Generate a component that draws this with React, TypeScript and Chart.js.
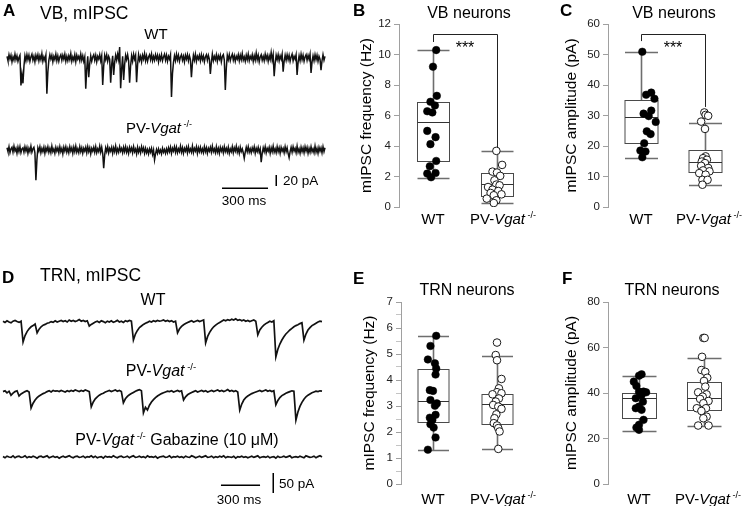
import { useEffect, useRef } from "react";
import { Chart, registerables } from "chart.js";

Chart.register(...registerables);

const FONT = '"Liberation Sans", Arial, Helvetica, sans-serif';

// ---------- categories ----------
const groups = ["WT", "PV-Vgat -/-"];

// ---------- Panel A: VB mIPSC traces (pA), one sample every 6.5 ms ----------
const vbSampleMs = 6.5;
const vbWtTrace = [
  3, -5, 6, -2, 5, -7, 2, -4, 7, -3, 4, -6, 1, 5, -50, -30, -46, -15, 4, -5,
  6, -3, 5, -6, 2, 7, -4, 3, -7, 5, -2, 6, -5, 4, -3, 8, -6, 2, -4, 5,
  -65, -25, -4, 6, -2, 5, -7, 3, -3, 7, -5, 4, -6, 2, 6, -4, 5, -2, 7, -6,
  3, -5, 4, -3, 8, -6, 2, -4, 6, -7, 5, -2, 3, -5, 7, -4, 4, -6, 2, -56,
  -20, 3, -35, -10, 4, -6, 2, 6, -4, 5, -7, 3, -2, 6, -5, 4, -49, -15, 5, -3,
  6, -6, 3, -2, -45, -12, 4, -31, -8, 5, -4, 7, -3, 20, -55, -20, 3, -40, -12, 5,
  -3, 6, -5, -45, -14, 4, -6, 7, -2, 5, -44, -12, 6, -4, 3, -7, 5, -2, 8, -5,
  4, -6, 2, 6, -3, 7, -5, 3, -4, 6, -2, 5, -7, 4, -3, 6, -5, 2, 7, -4,
  5, -6, 3, -2, 6, -71, -28, -8, 4, -5, 7, -3, 5, -6, 2, 6, -4, 3, -7, 5,
  -2, 6, -5, 4, -3, -35, -10, 5, -4, 7, -6, 3, -2, 5, -5, 6, -3, 4, -7, 2,
  6, -4, 5, -2, -29, -8, 7, -5, 3, -3, 6, -6, 4, -2, 5, -7, 3, 6, -4, -58,
  -18, 5, -3, 6, -5, 2, 7, -4, 4, -6, 3, -2, 6, -5, 5, -3, 8, -4, 2, -6,
  5, -3, 7, -5, 3, -2, 6, -6, 4, -4, 9, -3, 5, -7, 2, 6, -4, 3, -5, 7,
  -2, 5, -6, 4, -3, 10, -4, 6, -33, -10, 5, -3, 6, -5, 4, -2, 7, -25, -6, 5,
  -4, 6, -3, 5, -6, 2, 7, -5, 3, -2, 6, -31, -8, 4, -5, 7, -3, 5, -6, 2,
  6, -4, 5, -2, 7, -27, -7, 4, -5, 6, -3, 5, -6, 3, -2, -22, -5, 6, -4, 3,
];
const vbPvTrace = [
  4, -3, 6, -5, 2, 5, -4, 7, -2, 3, -6, 5, -3, 6, -5, 2, 4, -4, 6, -2,
  5, -6, 3, -3, 7, -4, 2, 5, -5, -55, -18, 4, -2, 6, -5, 3, -3, 5, -6, 4,
  -2, 6, -4, 3, -5, 7, -3, 2, -6, 5, -2, 4, -5, 6, -3, 3, -7, 5, -2, 6,
  -4, 3, -5, 6, -2, 4, -6, 5, -3, 7, -4, 2, -5, 6, -3, 4, -6, 3, -2, 5,
  -5, 6, -3, 4, -7, 3, -2, 5, -4, 6, -5, 2, -3, 7, -4, 5, -6, -33, -9, 4,
  -3, 6, -5, 3, -2, 5, -6, 4, -3, 7, -5, 2, -4, 6, -2, 3, -5, 5, -3, 6,
  -4, 3, -6, 5, -2, 4, -5, 6, -3, 2, -7, 5, -4, 3, -5, 6, -2, 4, -6, 3,
  -5, 1, -7, 2, -4, 3, -8, 0, -18, -7, 1, -6, 2, -5, 0, -7, 3, -4, 1, -6,
  2, -5, 4, -3, 5, -6, 3, -2, 6, -4, 5, -5, 2, -3, 7, -4, 4, -6, 3, -2,
  5, -5, 6, -3, 2, -4, 7, -5, 3, -2, 6, -6, 4, -3, 5, -4, 2, -5, 6, -3,
  4, -6, 3, -2, 5, -4, 7, -3, 2, -5, 6, -4, 3, -6, 5, -2, 4, -5, 6, -3,
  3, -4, 5, -6, 2, -3, 6, -5, 4, -2, 7, -4, 3, -6, 5, -3, 2, -5, -15, -4,
  5, -3, 6, -4, 2, -5, 4, -2, 6, -6, 3, -3, 5, -4, 2, -22, -6, 4, -3, 6,
  -5, 3, -2, 5, -6, 4, -3, 7, -4, 2, -5, 6, -3, 4, -6, 5, -2, 3, -5, 6,
  -3, 4, -6, -14, -3, 5, -4, 6, -2, 3, -5, 7, -4, 2, -6, 5, -3, 4, -5, 6,
  -2, 5, -6, 3, -4, 6, -3, 2, -5, 7, -4, 3, -6, 5, -2, 4, -5, 6, -3, 4,
];
const vbScaleMs = 300;
const vbScalePa = 20;

// ---------- Panel D: TRN mIPSC traces (pA), one sample every 15.4 ms ----------
const trnSampleMs = 15.4;
const trnWtTrace = [
  2, -1, 3, 0, -2, 2, 4, 1, -1, 2, -50, -34, -24, -17, -12, -9, -5, -27, -18, -12,
  -8, -6, -3, -2, 1, -1, 3, 0, 2, 4, 1, 3, 0, 5, 2, 4, 1, 3, 6, 2,
  4, 1, 3, -10, -6, -3, 0, 2, -1, 3, 1, -2, 2, 0, 3, -1, 1, 4, 0, 2,
  -1, 3, 1, 4, 2, -45, -30, -21, -14, -10, -6, -3, -1, 2, 0, 3, 1, 4, 2, 3,
  5, 2, 4, 1, 3, 0, 2, -27, -17, -11, -7, -4, -1, 1, 3, 0, 2, 4, 1, 3,
  5, -52, -36, -26, -18, -12, -8, -4, -1, 2, 5, 3, 6, 4, 7, 5, 8, 4, 6, 3,
  5, 2, 4, 1, 3, 5, 2, -32, -20, -13, -8, -4, -1, 2, 0, 3, -87, -68, -55, -45,
  -37, -30, -25, -20, -16, -12, -9, -7, -4, -2, -45, -30, -20, -14, -9, -6, -3, 0, 2, 1,
];
const trnPvTrace = [
  1, 3, -2, 2, -8, -3, 1, 3, -10, -5, -2, 1, 3, 0, -40, -28, -20, -14, -10, -7,
  -4, -2, 1, 3, 0, 4, 2, 3, 1, 4, 2, 0, 3, 1, 4, 2, 5, 3, 1, 4,
  2, 5, 3, 1, -37, -25, -17, -12, -8, -5, -3, 0, 2, 4, 1, 3, 5, 2, 4, 1,
  -27, -17, -11, -7, -4, -1, 2, 4, 6, 3, -52, -38, -45, -33, -25, -19, -14, -10, -7, -4,
  -2, 0, 2, 1, 3, 0, 2, 4, 1, 3, -20, -12, -7, -4, -1, 1, 3, 0, 2, 4,
  1, 3, 0, 2, 4, 1, 3, 5, 2, 4, 1, 3, 6, 2, 4, 1, 3, 0, -45, -30,
  -20, -14, -10, -7, -4, -2, 0, 2, 4, 1, 3, 5, 2, 4, 1, 3, -32, -21, -14, -9,
  -6, -3, -1, 1, 3, 2, -70, -50, -36, -26, -18, -12, -8, -5, -2, 0, 2, 1, 3, 2,
];
const trnGabazineTrace = [
  1, -2, 2, 0, -1, 3, -2, 1, 2, -1, 0, 3, -2, 1, -1, 2, 0, -3, 1, 2,
  -1, 1, 3, -2, 0, 2, -1, 1, -3, 0, 2, -1, 1, 3, 0, -2, 1, 2, -1, 0,
  2, -2, 1, 0, 3, -1, 2, -2, 0, 1, -3, 2, 0, 1, -1, 3, 0, -2, 1, 2,
  -1, 0, 2, -2, 1, 3, -1, 0, 2, -1, 1, -2, 3, 0, 1, -1, 2, -3, 0, 1,
  2, -1, 0, 3, -2, 1, 0, 2, -1, 1, -2, 2, 0, -1, 3, 1, -2, 0, 2, -1,
  1, 3, -1, 0, 2, -2, 1, -1, 2, 0, 3, -2, 1, 0, -1, 2, -3, 1, 0, 2,
  -1, 1, -2, 0, 2, -1, 1, 3, -2, 0, 1, -1, 2, -2, 0, 1, -3, 2, -1, 0,
  2, -1, 1, 3, -2, 0, 1, -1, 2, 0, -2, 3, 1, -1, 0, 2, -2, 1, 3, 0,
];
const trnScaleMs = 300;
const trnScalePa = 50;

// ---------- Panel B: VB mIPSC frequency (Hz) ----------
const vbFreqTicks = [0, 2, 4, 6, 8, 10, 12];
const vbFreqWt = [10.29, 9.2, 7.29, 6.9, 6.66, 6.28, 6.2, 4.99, 4.58, 4.12, 3.02, 2.67, 2.23, 2.19, 1.95];
const vbFreqWtJitter = [0.05, 0, 0.06, -0.04, 0.03, -0.09, -0.01, -0.09, 0.04, -0.04, 0.05, -0.05, 0.04, -0.09, -0.03];
const vbFreqPv = [3.68, 2.76, 2.32, 2.26, 2.04, 1.75, 1.47, 1.42, 1.31, 1.14, 1.05, 0.92, 0.83, 0.77, 0.55, 0.44, 0.26];
const vbFreqPvJitter = [-0.01, 0.08, -0.07, 0, 0.05, -0.04, -0.01, 0.04, -0.14, -0.07, 0.02, -0.1, 0.07, -0.05, -0.16, -0.01, -0.05];
const vbFreqWtBox = [1.93, 3.0, 5.58, 6.88, 10.29];
const vbFreqPvBox = [0.26, 0.72, 1.53, 2.23, 3.68];
const vbFreqBracket = [11.34, 10.82, 3.93];

// ---------- Panel C: VB mIPSC amplitude (pA) ----------
const vbAmpTicks = [0, 10, 20, 30, 40, 50, 60];
const vbAmpWt = [50.9, 37.5, 36.8, 35.5, 31.6, 30.6, 29.8, 27.9, 24.8, 23.9, 20.9, 18.5, 18.2, 16.3];
const vbAmpWtJitter = [0.02, 0.16, 0.08, 0.21, 0.16, 0.04, 0.12, 0.23, 0.09, 0.15, 0.05, -0.01, 0.07, 0.02];
const vbAmpPv = [31.0, 30.2, 29.9, 28.0, 25.6, 16.6, 16.0, 15.5, 14.9, 14.4, 13.5, 12.8, 12.0, 11.7, 11.1, 10.6, 8.9, 8.9, 7.3];
const vbAmpPvJitter = [-0.01, 0.01, 0.05, -0.06, 0, 0.01, -0.03, 0.03, -0.05, 0, -0.06, 0.05, -0.03, 0.07, -0.09, 0.01, -0.04, 0.04, -0.04];
const vbAmpWtBox = [16.0, 20.9, 29.5, 35.1, 50.7];
const vbAmpPvBox = [7.1, 11.5, 14.9, 18.8, 27.7];
const vbAmpBracket = [56.7, 54.4, 32.8];

// ---------- Panel E: TRN mIPSC frequency (Hz) ----------
const trnFreqTicks = [0, 1, 2, 3, 4, 5, 6, 7];
const trnFreqMinorStep = 0.5;
const trnFreqWt = [5.7, 5.31, 4.79, 4.64, 4.44, 4.21, 3.61, 3.58, 3.23, 3.1, 3.01, 2.66, 2.55, 2.46, 2.3, 2.17, 1.79, 1.32];
const trnFreqWtJitter = [0.05, -0.04, -0.08, 0.03, 0.05, 0.04, -0.05, 0, -0.04, 0.06, 0.03, 0.04, -0.05, -0.01, -0.04, 0.01, 0.04, -0.08];
const trnFreqPv = [5.44, 4.96, 4.76, 4.04, 3.68, 3.53, 3.49, 3.45, 3.29, 3.17, 3.04, 2.98, 2.89, 2.68, 2.53, 2.34, 2.25, 2.15, 2.02, 1.35];
const trnFreqPvJitter = [0, -0.02, 0, 0.07, 0.03, 0, 0.07, -0.07, 0.03, -0.02, -0.06, 0.02, 0.07, -0.01, -0.04, -0.05, 0, 0.02, 0.04, 0.02];
const trnFreqWtBox = [1.32, 2.38, 3.19, 4.42, 5.68];
const trnFreqPvBox = [1.35, 2.3, 3.08, 3.46, 4.93];

// ---------- Panel F: TRN mIPSC amplitude (pA) ----------
const trnAmpTicks = [0, 20, 40, 60, 80];
const trnAmpWt = [48.2, 47.6, 45.0, 43.1, 40.6, 40.6, 40.3, 39.1, 37.7, 36.2, 34.0, 33.3, 32.6, 28.2, 26.0, 24.8, 23.8];
const trnAmpWtJitter = [0.04, 0, -0.08, -0.04, 0.07, 0, 0.11, 0.04, -0.05, 0.06, 0, -0.05, 0.04, 0.07, 0, -0.04, 0];
const trnAmpPv = [64.2, 64.2, 55.9, 50.1, 49.3, 46.7, 45.3, 42.8, 40.3, 39.4, 38.4, 37.4, 36.5, 35.5, 33.3, 33.3, 32.1, 29.6, 28.9, 25.7, 25.7];
const trnAmpPvJitter = [-0.01, 0.01, -0.03, -0.04, 0.02, 0.05, 0, 0.02, -0.09, 0.04, -0.02, -0.06, 0.07, -0.01, -0.11, 0.03, -0.04, 0.04, -0.01, -0.09, 0.07];
const trnAmpWtBox = [23.5, 28.9, 37.7, 40.1, 47.6];
const trnAmpPvBox = [25.5, 32.6, 38.0, 44.8, 55.6];

// ================= helpers =================
type Part = { t: string; italic?: boolean; sup?: boolean };
function labelParts(label: string): Part[] {
  const m = label.match(/^(PV-)(Vgat)\s*(.*)$/);
  if (!m) return [{ t: label }];
  return [{ t: m[1] }, { t: m[2], italic: true }, { t: " " + m[3], sup: true }];
}

function drawRich(ctx: CanvasRenderingContext2D, parts: Part[], cx: number, cy: number, size: number) {
  const fontFor = (p: Part) => `${p.italic ? "italic " : ""}${p.sup ? size * 0.6 : size}px ${FONT}`;
  let total = 0;
  const widths = parts.map((p) => {
    ctx.font = fontFor(p);
    const w = ctx.measureText(p.t).width;
    total += w;
    return w;
  });
  let x = cx - total / 2;
  const base = cy + size * 0.358;
  ctx.textAlign = "left";
  ctx.textBaseline = "alphabetic";
  ctx.fillStyle = "#000";
  parts.forEach((p, i) => {
    ctx.font = fontFor(p);
    ctx.fillText(p.t, x, p.sup ? base - size * 0.42 : base);
    x += widths[i];
  });
}

interface BoxData {
  wt: number[]; wtJ: number[]; pv: number[]; pvJ: number[];
  wtBox: number[]; pvBox: number[]; ticks: number[]; minor?: number; title: string;
  bracket?: number[];
}
interface BoxGeom {
  padLeft: number; axisWidth: number; padRight: number; padTop: number; padBottom: number;
  xMin: number; xMax: number; halfWidth: number; labelDy: number; pvLabelDx: number;
}

function makeBoxConfig(d: BoxData, g: BoxGeom): any {
  const step = d.ticks[1] - d.ticks[0];
  const yMax = d.ticks[d.ticks.length - 1];
  const boxes = [
    { pos: 1, stats: d.wtBox },
    { pos: 2, stats: d.pvBox },
  ];
  const plugin = {
    id: "boxes",
    beforeDatasetsDraw(chart: any) {
      const { ctx } = chart;
      const x = chart.scales.x;
      const y = chart.scales.y;
      ctx.save();
      for (const b of boxes) {
        const cx = Math.round(x.getPixelForValue(b.pos)) + 0.5;
        const [mn, q1, md, q3, mx] = b.stats.map((v: number) => Math.round(y.getPixelForValue(v)) + 0.5);
        const hw = g.halfWidth;
        ctx.strokeStyle = "#6e6e6e";
        ctx.lineWidth = 1.6;
        ctx.beginPath();
        ctx.moveTo(cx, q3); ctx.lineTo(cx, mx);
        ctx.moveTo(cx, q1); ctx.lineTo(cx, mn);
        ctx.moveTo(cx - hw, mx); ctx.lineTo(cx + hw, mx);
        ctx.moveTo(cx - hw, mn); ctx.lineTo(cx + hw, mn);
        ctx.stroke();
        ctx.fillStyle = "#fff";
        ctx.fillRect(cx - hw, q3, 2 * hw, q1 - q3);
        ctx.strokeStyle = "#4a4a4a";
        ctx.lineWidth = 1;
        ctx.strokeRect(cx - hw, q3, 2 * hw, q1 - q3);
        ctx.strokeStyle = "#333";
        ctx.beginPath();
        ctx.moveTo(cx - hw, md); ctx.lineTo(cx + hw, md);
        ctx.stroke();
      }
      ctx.restore();
    },
    afterDatasetsDraw(chart: any) {
      if (!d.bracket) return;
      const { ctx } = chart;
      const x = chart.scales.x;
      const y = chart.scales.y;
      const [level, leftEnd, rightEnd] = d.bracket;
      const x1 = Math.round(x.getPixelForValue(1)) + 0.5;
      const x2 = Math.round(x.getPixelForValue(2)) + 0.5;
      const yl = Math.round(y.getPixelForValue(level)) + 0.5;
      ctx.save();
      ctx.strokeStyle = "#222";
      ctx.lineWidth = 1;
      ctx.beginPath();
      ctx.moveTo(x1, y.getPixelForValue(leftEnd));
      ctx.lineTo(x1, yl);
      ctx.lineTo(x2, yl);
      ctx.lineTo(x2, y.getPixelForValue(rightEnd));
      ctx.stroke();
      ctx.fillStyle = "#000";
      ctx.font = `16px ${FONT}`;
      ctx.textAlign = "center";
      ctx.textBaseline = "alphabetic";
      ctx.fillText("***", x.getPixelForValue(1.5), yl + 18);
      ctx.restore();
    },
    afterDraw(chart: any) {
      const { ctx } = chart;
      const x = chart.scales.x;
      const cy = chart.chartArea.bottom + g.labelDy;
      ctx.save();
      groups.forEach((label, i) => {
        const cx = x.getPixelForValue(i + 1) + (i === 1 ? g.pvLabelDx : 0);
        drawRich(ctx, labelParts(label), cx, cy, 15);
      });
      ctx.restore();
    },
  };
  return {
    type: "scatter",
    data: {
      datasets: [
        {
          data: d.wt.map((v, i) => ({ x: 1 + d.wtJ[i], y: v })),
          pointRadius: 3.8,
          pointBackgroundColor: "#000",
          pointBorderColor: "#000",
          pointBorderWidth: 0.5,
        },
        {
          data: d.pv.map((v, i) => ({ x: 2 + d.pvJ[i], y: v })),
          pointRadius: 3.8,
          pointBackgroundColor: "#fff",
          pointBorderColor: "#1a1a1a",
          pointBorderWidth: 1,
        },
      ],
    },
    options: {
      animation: false,
      responsive: false,
      devicePixelRatio: 1,
      events: [],
      layout: { padding: { left: g.padLeft, right: g.padRight, top: g.padTop, bottom: g.padBottom } },
      plugins: { legend: { display: false }, tooltip: { enabled: false }, title: { display: false } },
      scales: {
        x: { type: "linear", display: false, min: g.xMin, max: g.xMax },
        y: {
          type: "linear",
          min: 0,
          max: yMax,
          afterFit: (s: any) => {
            s.width = g.axisWidth;
          },
          ticks: {
            stepSize: d.minor ?? step,
            autoSkip: false,
            padding: 3,
            color: "#222",
            font: { family: FONT, size: 11.5 },
            callback: (v: number) => (Math.abs(v / step - Math.round(v / step)) < 1e-6 ? String(v) : ""),
          },
          grid: {
            drawOnChartArea: false,
            drawTicks: true,
            tickLength: 5,
            color: (c: any) => (c.tick && Math.abs(c.tick.value / step - Math.round(c.tick.value / step)) > 1e-6 ? "#c4c4c4" : "#a0a0a0"),
          },
          border: { display: true, color: "#a0a0a0", width: 1 },
          title: {
            display: true,
            text: d.title,
            color: "#000",
            font: { family: FONT, size: 15.5 },
            padding: { top: 4, bottom: 4 },
          },
        },
      },
    },
    plugins: [plugin],
  };
}

interface TraceAxis { id: string; data: number[]; min: number; max: number }
interface ScaleBar { axis: string; t0: number; ms: number; level: number; tV: number; v0: number; pa: number }

function makeTraceConfig(traces: TraceAxis[], dt: number, pad: any, bar: ScaleBar, lineWidth: number): any {
  const n = traces[0].data.length;
  const labels = Array.from({ length: n }, (_, i) => String(Math.round(i * dt)));
  const scales: any = { x: { type: "category", display: false } };
  traces.forEach((t) => {
    scales[t.id] = { type: "linear", display: false, min: t.min, max: t.max };
  });
  const plugin = {
    id: "scalebar",
    afterDraw(chart: any) {
      const { ctx } = chart;
      const x = chart.scales.x;
      const y = chart.scales[bar.axis];
      const px = (t: number) => x.getPixelForValue(t / dt);
      ctx.save();
      ctx.strokeStyle = "#000";
      ctx.lineWidth = 1.5;
      ctx.beginPath();
      const yh = Math.round(y.getPixelForValue(bar.level)) + 0.25;
      ctx.moveTo(px(bar.t0), yh);
      ctx.lineTo(px(bar.t0 + bar.ms), yh);
      const xv = Math.round(px(bar.tV)) + 0.25;
      ctx.moveTo(xv, y.getPixelForValue(bar.v0));
      ctx.lineTo(xv, y.getPixelForValue(bar.v0 + bar.pa));
      ctx.stroke();
      ctx.restore();
    },
  };
  return {
    type: "line",
    data: {
      labels,
      datasets: traces.map((t) => ({
        data: t.data,
        yAxisID: t.id,
        borderColor: "#111",
        borderWidth: lineWidth,
        borderJoinStyle: "miter",
        pointRadius: 0,
        tension: 0,
        fill: false,
        clip: false,
      })),
    },
    options: {
      animation: false,
      responsive: false,
      devicePixelRatio: 1,
      events: [],
      layout: { padding: pad },
      plugins: { legend: { display: false }, tooltip: { enabled: false } },
      scales,
    },
    plugins: [plugin],
  };
}

// ================= panel configs =================
const makeA = () =>
  makeTraceConfig(
    [
      { id: "yWt", data: vbWtTrace, min: -276.36, max: 69.09 },
      { id: "yPv", data: vbPvTrace, min: -109.09, max: 236.36 },
    ],
    vbSampleMs,
    { left: 7, right: 15, top: 20, bottom: 5 },
    { axis: "yPv", t0: 1402, ms: vbScaleMs, level: -69.1, tV: 1751, v0: -65.5, pa: vbScalePa },
    1.5
  );

const makeD = () =>
  makeTraceConfig(
    [
      { id: "yWt", data: trnWtTrace, min: -445, max: 55 },
      { id: "yPv", data: trnPvTrace, min: -270, max: 230 },
      { id: "yGab", data: trnGabazineTrace, min: -107.5, max: 392.5 },
    ],
    trnSampleMs,
    { left: 3, right: 18, top: 45, bottom: 6 },
    { axis: "yGab", t0: 1673, ms: trnScaleMs, level: -70, tV: 2072, v0: -90, pa: trnScalePa },
    1.7
  );

const makeB = () =>
  makeBoxConfig(
    {
      wt: vbFreqWt, wtJ: vbFreqWtJitter, pv: vbFreqPv, pvJ: vbFreqPvJitter,
      wtBox: vbFreqWtBox, pvBox: vbFreqPvBox, ticks: vbFreqTicks,
      title: "mIPSC frequency (Hz)", bracket: vbFreqBracket,
    },
    { padLeft: 13.4, axisWidth: 45.6, padRight: 9, padTop: 24, padBottom: 43, xMin: 0.46875, xMax: 2.53125, halfWidth: 16, labelDy: 12, pvLabelDx: 6 }
  );

const makeC = () =>
  makeBoxConfig(
    {
      wt: vbAmpWt, wtJ: vbAmpWtJitter, pv: vbAmpPv, pvJ: vbAmpPvJitter,
      wtBox: vbAmpWtBox, pvBox: vbAmpPvBox, ticks: vbAmpTicks,
      title: "mIPSC amplitude (pA)", bracket: vbAmpBracket,
    },
    { padLeft: 18.4, axisWidth: 49.6, padRight: 12, padTop: 24, padBottom: 43, xMin: 0.484, xMax: 2.516, halfWidth: 16.5, labelDy: 12, pvLabelDx: 4 }
  );

const makeE = () =>
  makeBoxConfig(
    {
      wt: trnFreqWt, wtJ: trnFreqWtJitter, pv: trnFreqPv, pvJ: trnFreqPvJitter,
      wtBox: trnFreqWtBox, pvBox: trnFreqPvBox, ticks: trnFreqTicks, minor: trnFreqMinorStep,
      title: "mIPSC frequency (Hz)",
    },
    { padLeft: 16.7, axisWidth: 44.3, padRight: 11, padTop: 47, padBottom: 22, xMin: 0.5, xMax: 2.5, halfWidth: 15.5, labelDy: 15, pvLabelDx: 6 }
  );

const makeF = () =>
  makeBoxConfig(
    {
      wt: trnAmpWt, wtJ: trnAmpWtJitter, pv: trnAmpPv, pvJ: trnAmpPvJitter,
      wtBox: trnAmpWtBox, pvBox: trnAmpPvBox, ticks: trnAmpTicks,
      title: "mIPSC amplitude (pA)",
    },
    { padLeft: 18.4, axisWidth: 49.6, padRight: 15, padTop: 47, padBottom: 22, xMin: 0.523, xMax: 2.477, halfWidth: 17, labelDy: 15, pvLabelDx: 4 }
  );

// ================= components =================
function ChartCanvas({ left, top, width, height, make }: { left: number; top: number; width: number; height: number; make: () => any }) {
  const ref = useRef<HTMLCanvasElement | null>(null);
  useEffect(() => {
    if (!ref.current) return;
    const chart = new Chart(ref.current, make());
    return () => chart.destroy();
  }, [make]);
  return (
    <canvas
      ref={ref}
      width={width}
      height={height}
      style={{ position: "absolute", left, top, width, height, display: "block" }}
    />
  );
}

function Txt({ x, y, size, bold, center, children }: { x: number; y: number; size: number; bold?: boolean; center?: boolean; children: any }) {
  return (
    <div
      style={{
        position: "absolute",
        left: x,
        top: y - size * 0.49,
        fontSize: size,
        lineHeight: `${size}px`,
        fontWeight: bold ? 700 : 400,
        fontFamily: FONT,
        whiteSpace: "nowrap",
        color: "#000",
        transform: center ? "translateX(-50%)" : undefined,
      }}
    >
      {children}
    </div>
  );
}

function Pv() {
  return (
    <>
      PV-<i>Vgat</i>
      <span style={{ fontSize: "0.6em", position: "relative", top: "-0.65em" }}> -/-</span>
    </>
  );
}

export default function App() {
  return (
    <div style={{ position: "absolute", left: 0, top: 0, width: 750, height: 506, background: "#fff", overflow: "hidden" }}>
      <ChartCanvas left={0} top={0} width={340} height={215} make={makeA} />
      <ChartCanvas left={0} top={255} width={340} height={251} make={makeD} />
      <ChartCanvas left={340} top={0} width={200} height={250} make={makeB} />
      <ChartCanvas left={540} top={0} width={210} height={250} make={makeC} />
      <ChartCanvas left={340} top={255} width={200} height={251} make={makeE} />
      <ChartCanvas left={540} top={255} width={210} height={251} make={makeF} />

      <Txt x={3} y={10} size={17} bold>A</Txt>
      <Txt x={40} y={14} size={17.5}>VB, mIPSC</Txt>
      <Txt x={156} y={33} size={15} center>WT</Txt>
      <Txt x={159} y={127} size={15} center><Pv /></Txt>
      <Txt x={283} y={181} size={13.5}>{`${vbScalePa} pA`}</Txt>
      <Txt x={244} y={201} size={13.5} center>{`${vbScaleMs} ms`}</Txt>

      <Txt x={353} y={10} size={17} bold>B</Txt>
      <Txt x={469} y={13} size={16} center>VB neurons</Txt>
      <Txt x={560} y={10} size={17} bold>C</Txt>
      <Txt x={674} y={13} size={16} center>VB neurons</Txt>

      <Txt x={2} y={277} size={17} bold>D</Txt>
      <Txt x={40} y={276} size={17.5}>TRN, mIPSC</Txt>
      <Txt x={153} y={300} size={16} center>WT</Txt>
      <Txt x={161} y={371} size={16} center><Pv /></Txt>
      <Txt x={177} y={440} size={16} center><Pv /> Gabazine (10 μM)</Txt>
      <Txt x={279} y={484} size={13.5}>{`${trnScalePa} pA`}</Txt>
      <Txt x={239} y={500} size={13.5} center>{`${trnScaleMs} ms`}</Txt>

      <Txt x={353} y={278} size={17} bold>E</Txt>
      <Txt x={467} y={290} size={16} center>TRN neurons</Txt>
      <Txt x={562} y={278} size={17} bold>F</Txt>
      <Txt x={672} y={290} size={16} center>TRN neurons</Txt>
    </div>
  );
}
